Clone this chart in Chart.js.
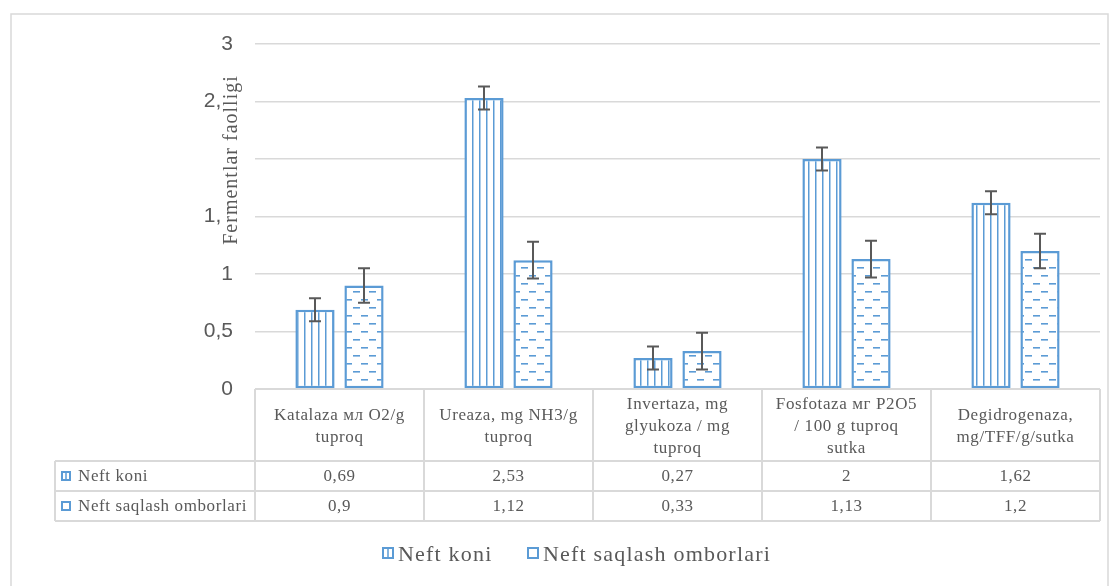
<!DOCTYPE html>
<html>
<head>
<meta charset="utf-8">
<script src="https://cdn.jsdelivr.net/npm/chart.js@4.4.0/dist/chart.umd.min.js"></script>
<style>
  body { margin: 0; background: #fff; }
  #wrap { width: 1115px; height: 586px; position: relative; }
</style>
</head>
<body>
<div id="wrap"><canvas id="chart"></canvas></div>
<script>
// data
const categories = [
  ["Katalaza мл O2/g", "tuproq"],
  ["Ureaza, mg NH3/g", "tuproq"],
  ["Invertaza, mg", "glyukoza / mg", "tuproq"],
  ["Fosfotaza мг P2O5", "/ 100 g tuproq", "sutka"],
  ["Degidrogenaza,", "mg/TFF/g/sutka"],
];
const seriesNames = ["Neft koni", "Neft saqlash omborlari"];
const neftKoni = [0.69, 2.53, 0.27, 2, 1.62];
const neftSaqlash = [0.9, 1.12, 0.33, 1.13, 1.2];
const neftKoniErr = [0.1, 0.1, 0.1, 0.1, 0.1];
const neftSaqlashErr = [0.15, 0.16, 0.16, 0.16, 0.15];
const yTitle = "Fermentlar faolligi";

const BLUE = "#5b9bd5";
const GRAY = "#595959";
const LINE = "#d9d9d9";
const SERIF = "'Liberation Serif', 'Times New Roman', serif";
const comma = (v) => String(v).replace(".", ",");

const canvas = document.getElementById("chart");
const ctx = canvas.getContext("2d");

// vertical stripes (Neft koni)
function stripes() {
  const c = document.createElement("canvas");
  c.width = 7; c.height = 8;
  const g = c.getContext("2d");
  g.fillStyle = "#fff"; g.fillRect(0, 0, 7, 8);
  g.fillStyle = BLUE; g.fillRect(3, 0, 1.5, 8);
  return ctx.createPattern(c, "repeat");
}
// dashed horizontal (Neft saqlash omborlari)
function dashes() {
  const c = document.createElement("canvas");
  c.width = 16; c.height = 16;
  const g = c.getContext("2d");
  g.fillStyle = "#fff"; g.fillRect(0, 0, 16, 16);
  g.fillStyle = BLUE;
  g.fillRect(1, 3, 7, 1.6);
  g.fillRect(9, 11, 7, 1.6);
  return ctx.createPattern(c, "repeat");
}
const fills = [stripes(), dashes()];

const errorBars = {
  id: "errorBars",
  afterDatasetsDraw(chart) {
    const c = chart.ctx, y = chart.scales.y;
    c.save();
    c.strokeStyle = GRAY;
    c.lineWidth = 2;
    chart.data.datasets.forEach((ds, di) => {
      chart.getDatasetMeta(di).data.forEach((bar, i) => {
        const top = y.getPixelForValue(ds.data[i] + ds.errors[i]);
        const bot = y.getPixelForValue(ds.data[i] - ds.errors[i]);
        c.beginPath();
        c.moveTo(bar.x, top); c.lineTo(bar.x, bot);
        c.moveTo(bar.x - 6, top); c.lineTo(bar.x + 6, top);
        c.moveTo(bar.x - 6, bot); c.lineTo(bar.x + 6, bot);
        c.stroke();
      });
    });
    c.restore();
  }
};

function legendIcon(c, x, y, s, di) {
  c.fillStyle = "#fff";
  c.fillRect(x, y, s, s);
  c.strokeStyle = BLUE;
  c.lineWidth = 2;
  c.strokeRect(x, y, s, s);
  if (di === 0) {
    c.beginPath();
    c.moveTo(x + s / 2, y); c.lineTo(x + s / 2, y + s);
    c.lineWidth = 1.5;
    c.stroke();
  }
}

const dataTable = {
  id: "dataTable",
  beforeDraw(chart) {
    const c = chart.ctx;
    c.save();
    c.strokeStyle = LINE;
    c.lineWidth = 1.5;
    c.strokeRect(11, 14, 1097, 620);
    c.restore();
  },
  afterDraw(chart) {
    const c = chart.ctx, a = chart.chartArea;
    const n = categories.length;
    const w = a.width / n;
    const y0 = a.bottom, y1 = y0 + 72, y2 = y1 + 30, y3 = y2 + 30;
    const left = 55;
    c.save();
    // grid
    c.strokeStyle = LINE;
    c.lineWidth = 2;
    c.beginPath();
    c.moveTo(a.left, y0); c.lineTo(a.right, y0);
    [y1, y2, y3].forEach((yy) => { c.moveTo(left, yy); c.lineTo(a.right, yy); });
    for (let i = 0; i <= n; i++) {
      c.moveTo(a.left + i * w, y0); c.lineTo(a.left + i * w, y3);
    }
    c.moveTo(left, y1); c.lineTo(left, y3);
    c.stroke();

    c.fillStyle = GRAY;
    c.font = "17px " + SERIF;
    c.letterSpacing = "0.6px";
    c.textAlign = "center";
    c.textBaseline = "middle";
    categories.forEach((lines, i) => {
      const cx = a.left + (i + 0.5) * w;
      const lh = 22;
      const start = 427 - (lines.length - 1) * lh / 2;
      lines.forEach((t, k) => c.fillText(t, cx, start + k * lh));
    });
    const rows = [neftKoni, neftSaqlash];
    rows.forEach((vals, r) => {
      const cy = (r === 0 ? y1 + y2 : y2 + y3) / 2;
      vals.forEach((v, i) => c.fillText(comma(v), a.left + (i + 0.5) * w, cy + 1));
      legendIcon(c, 62, cy - 4, 8, r);
      c.fillStyle = GRAY;
      c.textAlign = "left";
      c.fillText(seriesNames[r], 78, cy + 1);
      c.textAlign = "center";
    });

    // legend
    c.font = "22px " + SERIF;
    c.letterSpacing = "1.2px";
    c.textAlign = "left";
    const lx = [383, 528];
    seriesNames.forEach((name, r) => {
      legendIcon(c, lx[r], 548, 10, r);
      c.fillStyle = GRAY;
      c.fillText(name, lx[r] + 15, 555);
    });

    // y axis title, drawn over the tick labels like the original
    c.translate(231, 160);
    c.rotate(-Math.PI / 2);
    c.font = "20px " + SERIF;
    c.letterSpacing = "1px";
    const tw = c.measureText(yTitle).width;
    c.fillStyle = "#fff";
    c.fillRect(-tw / 2 - 2, -10, tw + 4, 20);
    c.fillStyle = GRAY;
    c.textAlign = "center";
    c.fillText(yTitle, 0, 1);
    c.restore();
  }
};

new Chart(ctx, {
  type: "bar",
  data: {
    labels: categories,
    datasets: [
      { label: seriesNames[0], data: neftKoni, errors: neftKoniErr, backgroundColor: fills[0],
        borderColor: BLUE, borderWidth: 2.5, borderSkipped: false, barPercentage: 0.8, categoryPercentage: 0.58 },
      { label: seriesNames[1], data: neftSaqlash, errors: neftSaqlashErr, backgroundColor: fills[1],
        borderColor: BLUE, borderWidth: 2.5, borderSkipped: false, barPercentage: 0.8, categoryPercentage: 0.58 },
    ],
  },
  options: {
    responsive: true,
    maintainAspectRatio: false,
    animation: false,
    layout: { padding: { top: 44, right: 15, bottom: 197, left: 0 } },
    plugins: { legend: { display: false }, tooltip: { enabled: false } },
    scales: {
      x: { display: false },
      y: {
        min: 0,
        max: 3,
        ticks: {
          stepSize: 0.5,
          padding: 22,
          color: GRAY,
          font: { family: "'Liberation Sans', Arial, sans-serif", size: 21 },
          callback: (v) => comma(v),
        },
        grid: { color: LINE, lineWidth: 1.5, drawTicks: false },
        border: { display: false },
        afterFit: (s) => { s.width = 255; },
      },
    },
  },
  plugins: [errorBars, dataTable],
});
</script>
</body>
</html>
